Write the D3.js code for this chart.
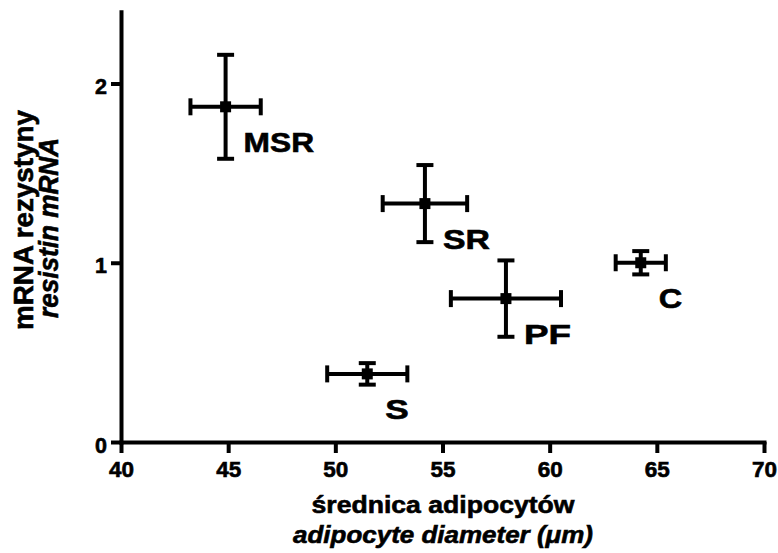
<!DOCTYPE html>
<html><head><meta charset="utf-8">
<script src="https://cdn.jsdelivr.net/npm/d3@7"></script>
<style>
html,body{margin:0;padding:0;background:#fff;}
svg text{font-family:"Liberation Sans",Arial,Helvetica,sans-serif;font-weight:700;fill:#000;stroke:#000;stroke-width:0.6px;}
</style></head>
<body>
<svg id="chart" width="778" height="553"></svg>
<script>
// ---- data ----
const groups = ["MSR", "SR", "PF", "C", "S"];
const diameterMean = [44.88, 54.18, 57.96, 64.25, 51.49];
const diameterSem  = [1.64, 1.97, 2.57, 1.17, 1.87];
const mrnaMean = [1.87, 1.33, 0.80, 1.00, 0.38];
const mrnaSem  = [0.29, 0.215, 0.213, 0.065, 0.06];
const xTickValues = [40, 45, 50, 55, 60, 65, 70];
const yTickValues = [0, 1, 2];
const xTitle1 = "średnica adipocytów";
const xTitle2 = "adipocyte diameter (μm)";
const yTitle1 = "mRNA rezystyny";
const yTitle2 = "resistin mRNA";

const svg = d3.select("#chart");
const x = d3.scaleLinear().domain([40, 70]).range([121, 764]);
const y = d3.scaleLinear().domain([0, 2.4]).range([442, 11.8]);

const data = groups.map((g, i) => ({g, x: diameterMean[i], xe: diameterSem[i], y: mrnaMean[i], ye: mrnaSem[i]}));

// axes
const xAxis = svg.append("g").attr("transform", "translate(0,442)")
  .call(d3.axisBottom(x).tickValues(xTickValues).tickSize(11).tickSizeOuter(0).tickFormat(d3.format("d")));
const yAxis = svg.append("g").attr("transform", "translate(121,0)")
  .call(d3.axisLeft(y).tickValues(yTickValues).tickSize(10).tickSizeOuter(0).tickFormat(d3.format("d")));
[xAxis, yAxis].forEach(a => {
  a.select(".domain").attr("stroke", "#000").attr("stroke-width", 4).attr("stroke-linecap", "square");
  a.selectAll(".tick line").attr("stroke", "#000").attr("stroke-width", 4);
  a.selectAll(".tick text").remove();
});
xAxis.selectAll(".tick").append("text")
  .attr("x", 0).attr("y", 35).attr("text-anchor", "middle")
  .attr("font-size", 21.5).attr("textLength", 25).attr("lengthAdjust", "spacingAndGlyphs")
  .text(d => d3.format("d")(d));
yAxis.selectAll(".tick").append("text")
  .attr("x", -14).attr("y", 10).attr("text-anchor", "end")
  .attr("font-size", 21.5)
  .text(d => d3.format("d")(d));

// error bars
const cap = 8.5;
const eb = svg.append("g").attr("stroke", "#000").attr("stroke-width", 4).attr("fill", "none");
data.forEach(d => {
  const cx = x(d.x), cy = y(d.y);
  const x0 = x(d.x - d.xe), x1 = x(d.x + d.xe);
  const y0 = y(d.y - d.ye), y1 = y(d.y + d.ye);
  eb.append("line").attr("x1", x0).attr("x2", x1).attr("y1", cy).attr("y2", cy);
  eb.append("line").attr("x1", x0).attr("x2", x0).attr("y1", cy - cap).attr("y2", cy + cap);
  eb.append("line").attr("x1", x1).attr("x2", x1).attr("y1", cy - cap).attr("y2", cy + cap);
  eb.append("line").attr("x1", cx).attr("x2", cx).attr("y1", y0).attr("y2", y1);
  eb.append("line").attr("x1", cx - cap).attr("x2", cx + cap).attr("y1", y0).attr("y2", y0);
  eb.append("line").attr("x1", cx - cap).attr("x2", cx + cap).attr("y1", y1).attr("y2", y1);
});

// markers
svg.append("g").selectAll("rect").data(data).join("rect")
  .attr("x", d => x(d.x) - 5.5).attr("y", d => y(d.y) - 5.5)
  .attr("width", 11).attr("height", 11).attr("fill", "#000");

// point labels
svg.append("g").selectAll("text").data(data).join("text")
  .attr("x", d => x(d.x) + 18).attr("y", d => y(d.y) + 45)
  .attr("font-size", 28).attr("textLength", d => d.g.length * 23.5).attr("lengthAdjust", "spacingAndGlyphs")
  .text(d => d.g);

// x title
svg.append("text").attr("x", 443).attr("y", 513).attr("text-anchor", "middle")
  .attr("font-size", 24).attr("textLength", 263).attr("lengthAdjust", "spacingAndGlyphs").text(xTitle1);
svg.append("text").attr("x", 443).attr("y", 543).attr("text-anchor", "middle")
  .attr("font-size", 24).attr("font-style", "italic").attr("textLength", 300).attr("lengthAdjust", "spacingAndGlyphs").text(xTitle2);

// y title
svg.append("text").attr("transform", "translate(33,220) rotate(-90)").attr("text-anchor", "middle")
  .attr("font-size", 27).attr("textLength", 220).attr("lengthAdjust", "spacingAndGlyphs").text(yTitle1);
svg.append("text").attr("transform", "translate(58,228) rotate(-90)").attr("text-anchor", "middle")
  .attr("font-size", 27).attr("font-style", "italic").attr("textLength", 180).attr("lengthAdjust", "spacingAndGlyphs").text(yTitle2);
</script>
</body></html>
